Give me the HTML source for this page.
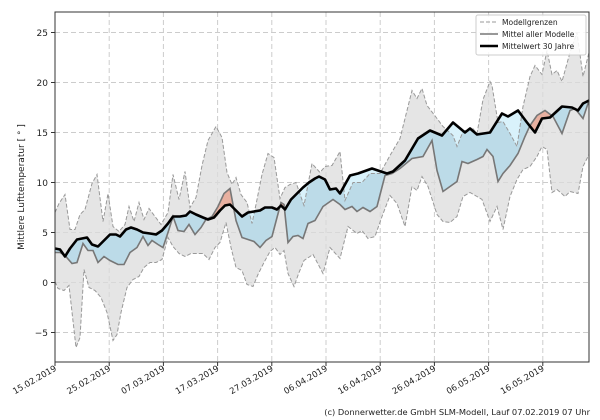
<!DOCTYPE html>
<html><head><meta charset="utf-8"><style>
html,body{margin:0;padding:0;background:#fff;}
svg{display:block;font-family:"DejaVu Sans","Liberation Sans",sans-serif;}
</style></head><body>
<svg id="s" width="600" height="420" xmlns="http://www.w3.org/2000/svg"></svg>
<script>
const U=[[55,7],[59,7.9],[65,8.8],[70,5.3],[75,5.3],[80,6.8],[85,7.3],[92,9.9],[97,10.8],[103,6.1],[108,8.9],[113,5.6],[119,5.1],[125,5.8],[129,7.6],[134,6.1],[139,8],[144,6.3],[149,7.4],[155,6.6],[161,5.8],[168,7],[173,10.8],[179,8.3],[185,11.1],[190,7.5],[196,8.5],[202,11.7],[208,14.2],[216,15.6],[222,14.5],[227,11],[232,9.8],[236,10.5],[241,8.8],[247,8],[252,5.9],[256,7.8],[262,10.8],[268,12.9],[274,12.5],[280,8.4],[285,9.5],[290,9.8],[296,10],[304,7.7],[312,11.9],[320,11],[325,11.6],[332,11.7],[340,13.1],[345,8.2],[353,10],[362,10],[370,10.9],[380,10.9],[390,12.7],[400,14.4],[412,19.2],[417,18.4],[422,19.4],[427,17.7],[437,16.4],[443,15.6],[453,14.7],[457,13.6],[463,15.1],[472,15.5],[477,14.9],[483,18.3],[490,20.1],[492,19.7],[498,16],[503,16.1],[510,14.9],[517,13.6],[523,17.6],[530,20.6],[535,21.7],[542,20.8],[547,23.2],[552,20.8],[557,21.2],[562,20.1],[570,23],[577,25],[583,20.6],[589,23]];
const L=[[55,0.1],[58,-0.6],[64,-0.8],[69,-0.3],[76,-6.5],[80,-5.5],[84,1.3],[89,-0.5],[95,-0.8],[101,-1.5],[107,-3],[113,-5.8],[117,-5.2],[121,-3],[127,-0.5],[133,0.3],[139,0.6],[144,1.5],[150,2],[156,2],[162,2.3],[168,4.5],[173,3.6],[179,2.9],[185,2.6],[191,2.9],[197,2.9],[203,2.9],[209,2.3],[215,3.5],[220,4],[226,6],[231,3.5],[236,1.5],[242,1.2],[247,-0.2],[253,-0.4],[258,0.8],[264,2],[270,3.1],[275,3.5],[280,2.8],[284,3.2],[288,0.9],[294,-0.4],[299,1],[304,2.2],[313,2.8],[323,0.9],[330,3.5],[340,2.4],[348,5.6],[357,4.9],[362,5.2],[368,4.4],[375,4.6],[382,6.6],[390,8.7],[397,7.9],[405,5.6],[412,9.6],[417,9.2],[422,10.6],[428,9.6],[437,6.8],[443,6.1],[450,6],[457,6.6],[463,8.6],[470,9],[477,8.6],[482,8.3],[490,6.1],[497,7.6],[503,5.3],[510,8.6],[517,10.3],[523,11.3],[530,11.6],[537,12.6],[542,13.6],[547,13.3],[552,9],[557,9.3],[565,8.6],[570,9.1],[578,8.9],[583,11.6],[589,12.8]];
const M=[[55,3],[60,3],[65,2.7],[72,1.9],[77,2],[83,3.9],[88,3.2],[93,3.2],[98,2],[104,2.6],[110,2.2],[118,1.8],[124,1.8],[130,3],[137,3.5],[143,4.6],[148,3.7],[152,4.2],[158,3.8],[163,3.5],[168,5],[173,6.6],[178,5.2],[184,5.1],[189,5.8],[195,4.8],[201,5.5],[206,6.3],[212,6.6],[218,7.6],[224,8.9],[230,9.4],[236,6.2],[242,4.5],[248,4.3],[254,4.1],[260,3.5],[266,4.2],[272,4.6],[277,6.5],[281,8],[284,7.8],[288,4],[293,4.6],[298,4.7],[303,4.4],[308,5.9],[315,6.2],[323,7.6],[333,8.3],[340,7.8],[345,7.3],[352,7.6],[357,7.1],[363,7.5],[370,7.1],[377,7.6],[385,10.7],[392,10.9],[400,11.4],[412,12.4],[423,12.6],[432,14.2],[437,11.2],[443,9.1],[450,9.6],[457,10.1],[462,12.1],[468,11.9],[477,12.3],[483,12.6],[487,13.3],[493,12.6],[498,10.1],[503,10.9],[510,11.7],[518,12.9],[525,14.6],[530,15.7],[537,16.7],[545,17.2],[553,16.6],[562,14.9],[570,17.2],[575,17.4],[583,16.4],[589,18.2]];
const B=[[55,3.4],[60,3.3],[65,2.6],[70,3.4],[77,4.3],[87,4.5],[92,3.8],[98,3.6],[104,4.2],[110,4.8],[116,4.8],[120,4.6],[126,5.3],[131,5.5],[137,5.3],[143,5],[150,4.9],[156,4.8],[162,5.2],[168,5.9],[173,6.6],[180,6.6],[186,6.7],[190,7.1],[196,6.8],[203,6.5],[208,6.3],[214,6.5],[220,7.2],[225,7.7],[230,7.8],[236,7.2],[242,6.6],[248,7],[254,7.1],[260,7.2],[265,7.5],[272,7.5],[277,7.3],[281,7.7],[285,7.3],[291,8.3],[297,8.9],[303,9.5],[309,10],[315,10.4],[319,10.6],[325,10.3],[330,9.3],[336,9.4],[340,8.9],[350,10.7],[358,10.9],[372,11.4],[387,10.9],[393,11.1],[405,12.2],[418,14.4],[430,15.2],[442,14.7],[453,16],[465,15],[470,15.4],[477,14.8],[490,15],[502,16.9],[508,16.6],[518,17.2],[527,16],[535,15],[542,16.4],[550,16.5],[562,17.6],[572,17.5],[578,17.2],[583,17.9],[589,18.2]];
function interp(a){const r=[];let j=0;for(let x=55;x<=589;x++){while(j<a.length-2&&a[j+1][0]<x)j++;const[x0,v0]=a[j],[x1,v1]=a[j+1];let t=(x-x0)/(x1-x0);t=Math.max(0,Math.min(1,t));r.push(v0+(v1-v0)*t);}return r;}
const Y=v=>(282.5-10*v).toFixed(1);
const u=interp(U),l=interp(L),m=interp(M),b=interp(B);
function band(lo,hi){let p=[];for(let i=0;i<lo.length;i++)p.push((55+i)+','+Y(lo[i]));for(let i=hi.length-1;i>=0;i--)p.push((55+i)+','+Y(hi[i]));return p.join(' ');}
function ptsline(a){return a.map(p=>p[0]+','+Y(p[1])).join(' ');}
let s='';
s+=`<rect x="55" y="12" width="534" height="350" fill="#fff"/>`;
for(let v=-5;v<=25;v+=5){const y=Y(v);s+=`<line x1="55" x2="589" y1="${y}" y2="${y}" stroke="#ccc" stroke-width="1" stroke-dasharray="5,3"/>`;s+=`<text x="48" y="${+y+3.5}" font-size="9" text-anchor="end" fill="#222">${v<0?'−'+(-v):v}</text>`;}
const labs=['15.02.2019','25.02.2019','07.03.2019','17.03.2019','27.03.2019','06.04.2019','16.04.2019','26.04.2019','06.05.2019','16.05.2019'];
labs.forEach((t,i)=>{const x=55+i*54.2;s+=`<line x1="${x}" x2="${x}" y1="12" y2="362" stroke="#ccc" stroke-dasharray="5,3"/>`;s+=`<line x1="${x}" x2="${x}" y1="362" y2="366" stroke="#333"/>`;s+=`<text transform="translate(${x+2},370) rotate(-30)" font-size="8.5" text-anchor="end" fill="#222">${t}</text>`;});
s+=`<polygon points="${band(l,u)}" fill="#dcdcdc" fill-opacity="0.75"/>`;
const bm=b.map((v,i)=>Math.max(v,m[i]));
s+=`<polygon points="${band(m,bm)}" fill="#bcdbe8"/>`;
s+=`<polygon points="${band(u.map((v,i)=>Math.min(v,b[i])),b)}" fill="#d9f2fb"/>`;
s+=`<polygon points="${band(b,b.map((v,i)=>Math.max(v,m[i])))}" fill="#e8b0a0"/>`;
s+=`<polyline points="${ptsline(U)}" fill="none" stroke="#999" stroke-width="1" stroke-dasharray="4,2"/>`;
s+=`<polyline points="${ptsline(L)}" fill="none" stroke="#999" stroke-width="1" stroke-dasharray="4,2"/>`;
s+=`<polyline points="${ptsline(M)}" fill="none" stroke="#777" stroke-width="1.6"/>`;
s+=`<polyline points="${ptsline(B)}" fill="none" stroke="#000" stroke-width="2.6" stroke-linejoin="round"/>`;
s+=`<rect x="55" y="12" width="534" height="350" fill="none" stroke="#333" stroke-width="1"/>`;
for(let v=-5;v<=25;v+=5){s+=`<line x1="51" x2="55" y1="${Y(v)}" y2="${Y(v)}" stroke="#333"/>`;}
s+=`<rect x="476" y="15" width="110" height="40" rx="2" fill="#fff" fill-opacity="0.85" stroke="#ccc"/>`;
s+=`<line x1="480" x2="498" y1="22" y2="22" stroke="#999" stroke-dasharray="4,2"/><text x="502" y="25" font-size="7.6" fill="#222">Modellgrenzen</text>`;
s+=`<line x1="480" x2="498" y1="34" y2="34" stroke="#777" stroke-width="1.6"/><text x="502" y="37" font-size="7.6" fill="#222">Mittel aller Modelle</text>`;
s+=`<line x1="480" x2="498" y1="46" y2="46" stroke="#000" stroke-width="2.6"/><text x="502" y="49" font-size="7.6" fill="#222">Mittelwert 30 Jahre</text>`;
s+=`<text transform="translate(24,187) rotate(-90)" font-size="9" text-anchor="middle" fill="#222">Mittlere Lufttemperatur [ ° ]</text>`;
s+=`<text x="590" y="415" font-size="8.3" text-anchor="end" fill="#222">(c) Donnerwetter.de GmbH SLM-Modell, Lauf 07.02.2019 07 Uhr</text>`;
document.getElementById('s').innerHTML=s;
</script>
</body></html>
